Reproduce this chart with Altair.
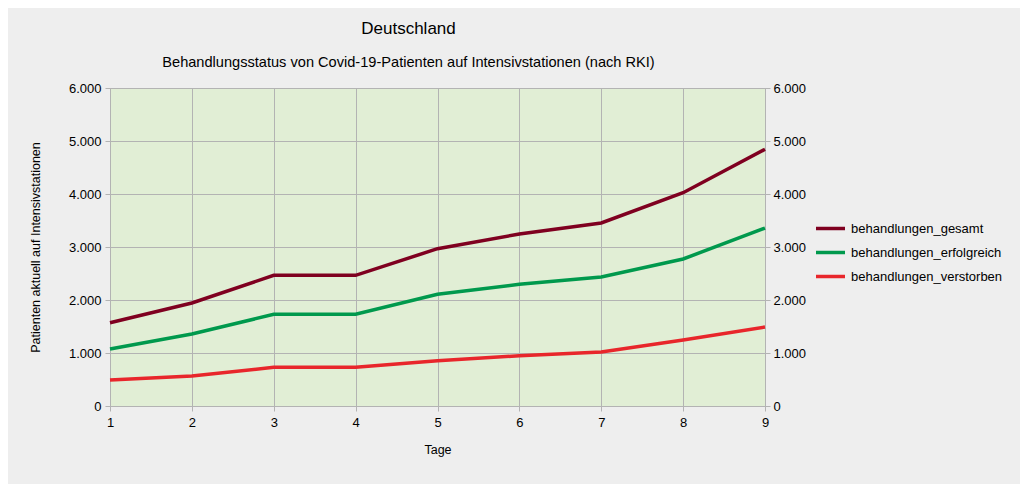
import altair as alt
import pandas as pd

tage = [1, 2, 3, 4, 5, 6, 7, 8, 9]
gesamt = [1572, 1943, 2466, 2466, 2968, 3245, 3453, 4025, 4843]
erfolgreich = [1075, 1358, 1730, 1730, 2108, 2296, 2434, 2774, 3358]
verstorben = [490, 566, 730, 730, 855, 949, 1019, 1245, 1490]

series = ["behandlungen_gesamt", "behandlungen_erfolgreich", "behandlungen_verstorben"]
colors = ["#7f0020", "#00994d", "#e8262b"]

rows = []
for name, vals in zip(series, [gesamt, erfolgreich, verstorben]):
    for t, v in zip(tage, vals):
        rows.append({"Tag": t, "Wert": v, "Serie": name})
df = pd.DataFrame(rows)

label_expr = "replace(format(datum.value, ','), ',', '.')"
font = "Liberation Sans"

x_enc = alt.X("Tag:Q", scale=alt.Scale(domain=[1, 9], nice=False, zero=False),
              axis=alt.Axis(title="Tage", values=tage, format="d", grid=True,
                            gridColor="#b3b3b3", tickColor="#b3b3b3", domain=False,
                            labelFontSize=13, titleFontSize=12.5, titleFontWeight="normal",
                            labelColor="#000000", titleColor="#000000", labelFlush=False,
                            tickSize=5, labelPadding=5, titlePadding=14,
                            labelFont=font, titleFont=font))

color_enc = alt.Color("Serie:N", scale=alt.Scale(domain=series, range=colors),
                      legend=alt.Legend(title=None, orient="none", legendX=704, legendY=124,
                                        symbolType="stroke", symbolSize=841,
                                        symbolStrokeWidth=3.5, labelFontSize=13,
                                        labelFont=font, labelColor="#000000",
                                        rowPadding=-5, labelOffset=4))

y_scale = alt.Scale(domain=[0, 6000], nice=False)

left = alt.Chart(df).mark_line(strokeWidth=3.5).encode(
    x=x_enc,
    y=alt.Y("Wert:Q", scale=y_scale,
            axis=alt.Axis(title="Patienten aktuell auf Intensivstationen", orient="left",
                          values=[0, 1000, 2000, 3000, 4000, 5000, 6000],
                          labelExpr=label_expr, grid=True, gridColor="#b3b3b3",
                          tickColor="#b3b3b3", domain=False, tickSize=5,
                          labelFontSize=13, titleFontSize=12.5, titleFontWeight="normal",
                          labelColor="#000000", titleColor="#000000",
                          labelFont=font, titleFont=font, labelPadding=4, titlePadding=26)),
    color=color_enc,
    order="Tag:Q",
)

right = alt.Chart(df).mark_line(strokeWidth=3.5, opacity=0).encode(
    x="Tag:Q",
    y=alt.Y("Wert:Q", scale=y_scale,
            axis=alt.Axis(title=None, orient="right",
                          values=[0, 1000, 2000, 3000, 4000, 5000, 6000],
                          labelExpr=label_expr, grid=False,
                          tickColor="#b3b3b3", domain=False, tickSize=5,
                          labelFontSize=13, labelColor="#000000",
                          labelFont=font, labelPadding=3)),
    color=alt.Color("Serie:N", scale=alt.Scale(domain=series, range=colors), legend=None),
)

chart = alt.layer(left, right).resolve_scale(y="independent").properties(
    width=655,
    height=318,
    autosize=alt.AutoSizeParams(type="none"),
    padding={"left": 102, "top": 80, "right": 255, "bottom": 78},
    title=alt.TitleParams(
        text="Deutschland",
        subtitle="Behandlungsstatus von Covid-19-Patienten auf Intensivstationen (nach RKI)",
        fontSize=17, fontWeight="normal", font=font, color="#000000",
        subtitleFontSize=14.6, subtitleFont=font, subtitleColor="#000000",
        subtitlePadding=17, offset=11, anchor="middle", dx=-29,
    ),
).configure(background="#eeeeee").configure_view(
    fill="#e1eed5", stroke="#b3b3b3", strokeWidth=1
)

chart.save("out.html", embed_options={"renderer": "svg", "actions": False})
